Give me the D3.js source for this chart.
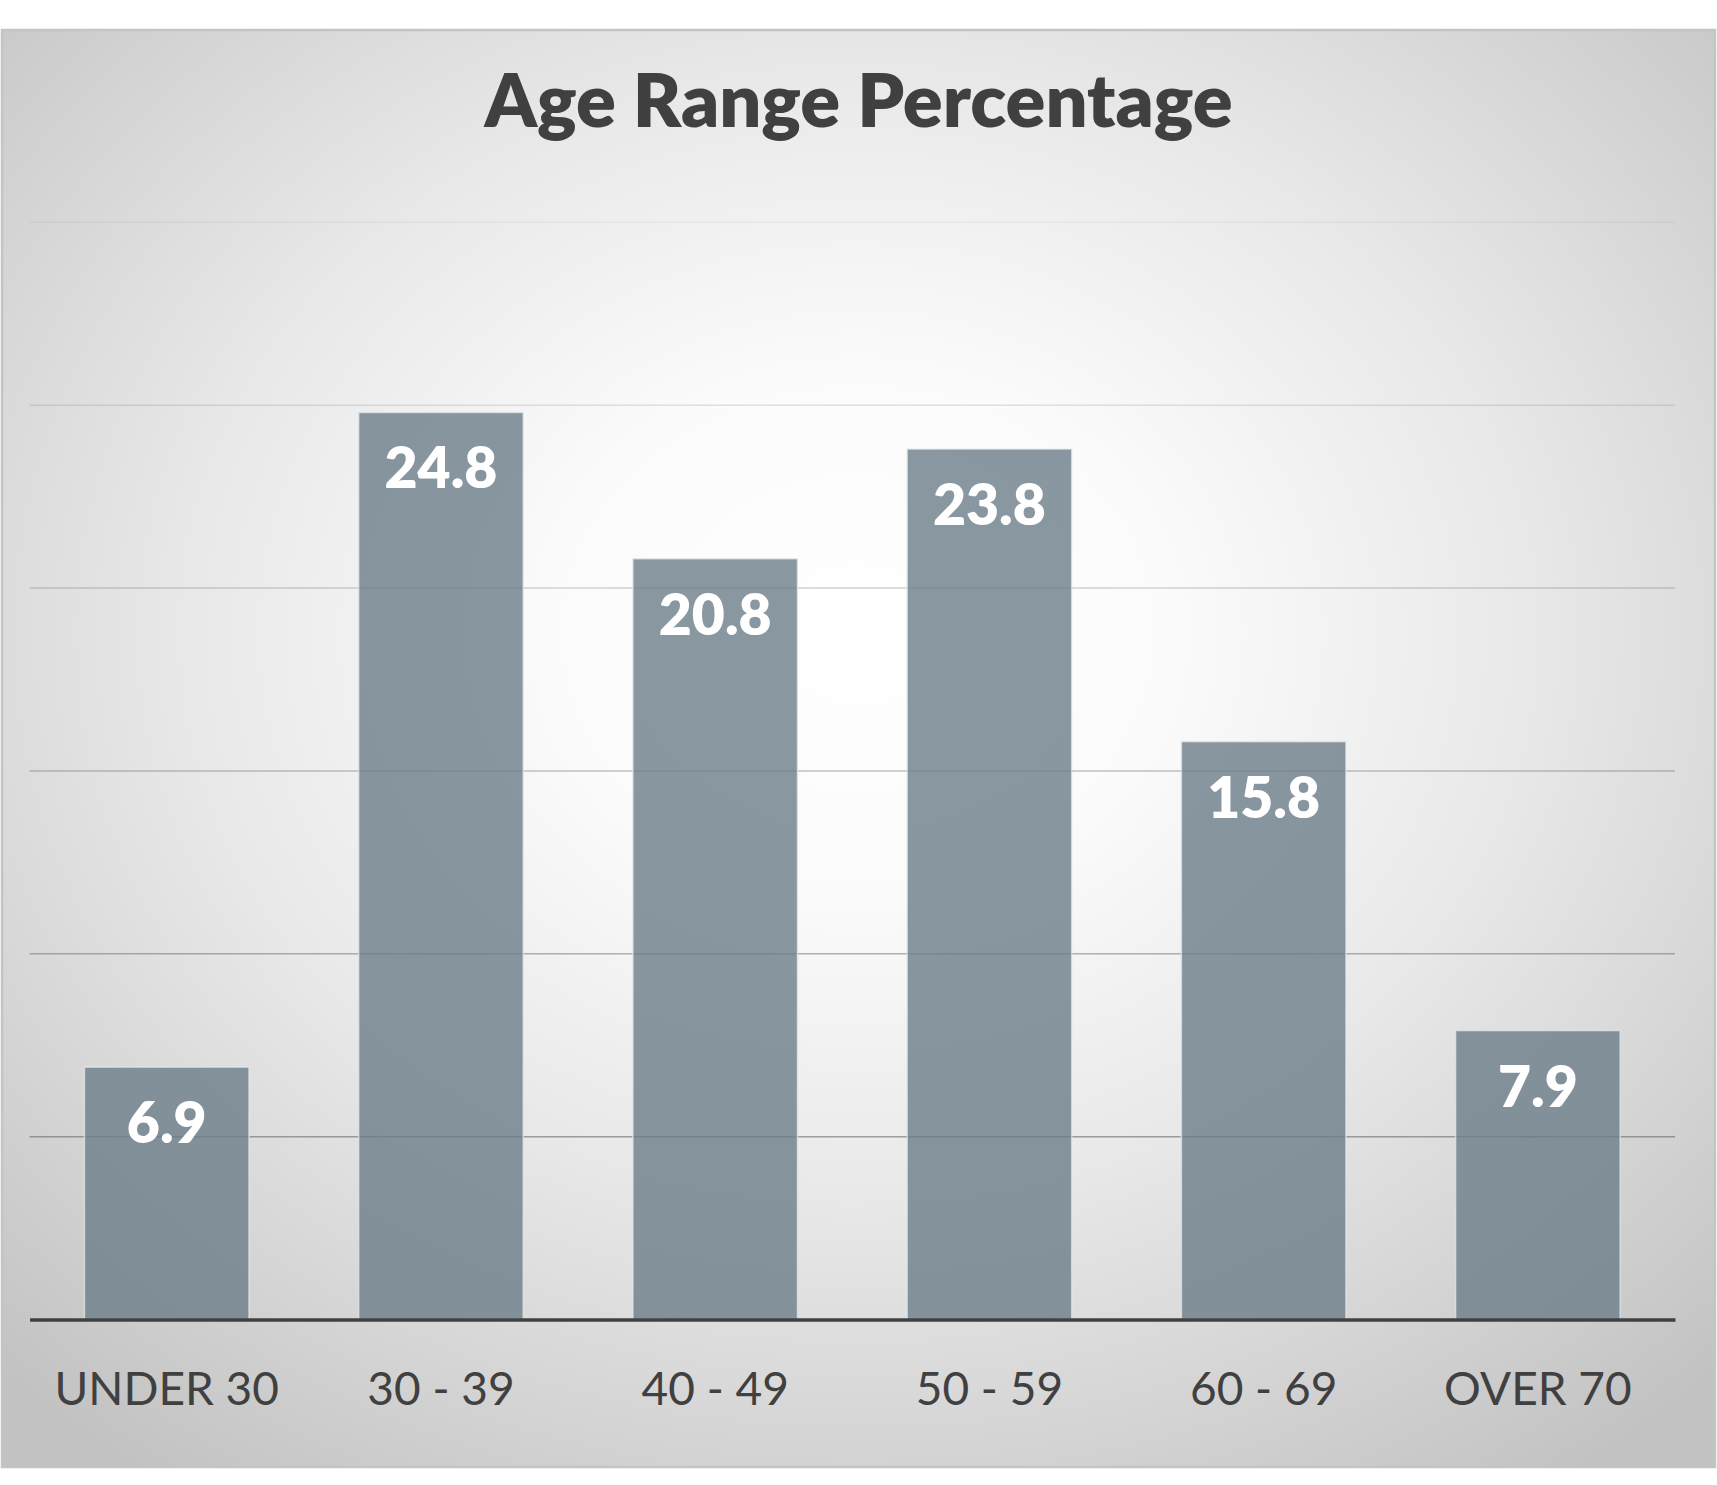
<!DOCTYPE html>
<html><head><meta charset="utf-8">
<script src="https://cdn.jsdelivr.net/npm/d3@7"></script>
<style>html,body{margin:0;padding:0;background:#fff;} svg{display:block;}</style>
</head><body>
<svg id="chart" width="1717" height="1485"></svg>
<script>
const chartTitle = "Age Range Percentage";
const categories = ["UNDER 30", "30 - 39", "40 - 49", "50 - 59", "60 - 69", "OVER 70"];
const values = [6.9, 24.8, 20.8, 23.8, 15.8, 7.9];
const yTicks = [0, 5, 10, 15, 20, 25, 30];

const W = 1717, H = 1485;
const frame = {x: 2, y: 30, w: 1713, h: 1437};
const plot = {left: 29.6, right: 1675, top: 222.3, bottom: 1319.5};
const FONT = "Lato, 'Open Sans', sans-serif";

const svg = d3.select("#chart");
const defs = svg.append("defs");

const bg = defs.append("radialGradient").attr("id", "bg")
  .attr("cx", 0.5).attr("cy", 0.42).attr("r", 0.72).attr("fx", 0.5).attr("fy", 0.42);
[[0, "#ffffff"], [0.25, "#fbfbfb"], [0.55, "#e8e8e8"], [0.72, "#dadada"], [1, "#c2c2c2"]]
  .forEach(([o, c]) => bg.append("stop").attr("offset", o).attr("stop-color", c));

svg.append("rect").attr("x", frame.x).attr("y", frame.y).attr("width", frame.w).attr("height", frame.h)
  .attr("fill", "url(#bg)").attr("stroke", "#c4c4c4").attr("stroke-width", 2.5);

const x = d3.scaleBand().domain(categories).range([plot.left, plot.right])
  .paddingInner(0.4).paddingOuter(0.2);
const y = d3.scaleLinear().domain([0, 30]).range([plot.bottom, plot.top]);
const gridOpacity = d3.scaleLinear().domain([0, 30]).range([0.72, 0.08]);

// gridlines
svg.append("g").selectAll("line").data(yTicks.filter(t => t > 0)).join("line")
  .attr("x1", plot.left).attr("x2", plot.right)
  .attr("y1", d => y(d)).attr("y2", d => y(d))
  .attr("stroke", "#6a6a6a").attr("stroke-width", 1.5)
  .attr("stroke-opacity", d => gridOpacity(d));

// bars
svg.append("g").selectAll("rect").data(values).join("rect")
  .attr("x", (d, i) => x(categories[i]))
  .attr("y", d => y(d))
  .attr("width", x.bandwidth())
  .attr("height", d => y(0) - y(d))
  .attr("fill", "#6b7d8a").attr("fill-opacity", 0.8)
  .attr("stroke", "#e4e9ed").attr("stroke-opacity", 0.7).attr("stroke-width", 1.5);

// baseline axis
const xAxis = d3.axisBottom(x).tickSize(0).tickPadding(0);
const gx = svg.append("g").attr("transform", `translate(0,${y(0)})`).call(xAxis);
gx.select(".domain").attr("stroke", "#404040").attr("stroke-width", 3.5);
gx.selectAll(".tick text")
  .attr("y", 85).attr("dy", null)
  .attr("fill", "#404040")
  .style("font-family", FONT).style("font-size", "46px");

// data labels
svg.append("g").selectAll("text").data(values).join("text")
  .attr("x", (d, i) => x(categories[i]) + x.bandwidth() / 2)
  .attr("y", d => y(d) + 76)
  .attr("text-anchor", "middle")
  .attr("fill", "#ffffff")
  .style("font-family", FONT).style("font-weight", 800).style("font-size", "57px")
  .text(d => d.toFixed(1));

// title
svg.append("text").attr("x", frame.x + frame.w / 2).attr("y", 127)
  .attr("text-anchor", "middle").attr("fill", "#404040")
  .style("font-family", FONT).style("font-weight", 800).style("font-size", "74px")
  .text(chartTitle);
</script>
</body></html>
